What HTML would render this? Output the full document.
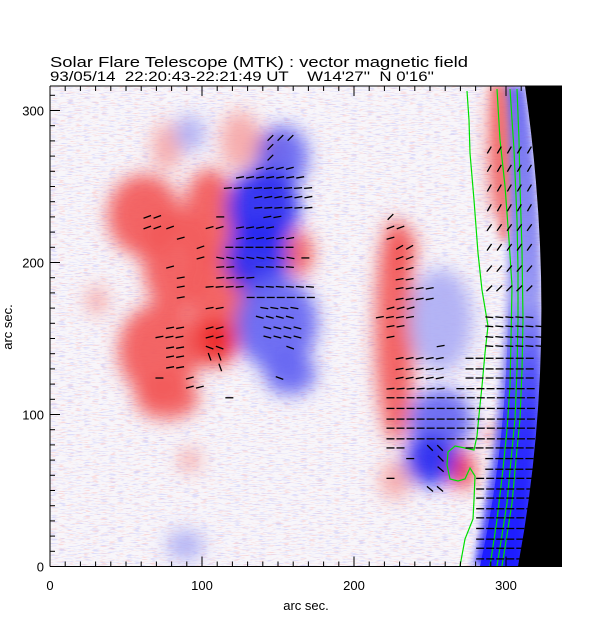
<!DOCTYPE html>
<html><head><meta charset="utf-8">
<style>
html,body{margin:0;padding:0;background:#fff;}
svg{display:block;font-family:"Liberation Sans",sans-serif;}
</style></head>
<body>
<svg id="chart" width="612" height="617" viewBox="0 0 612 617" xmlns="http://www.w3.org/2000/svg">
<defs>
 <clipPath id="plotclip"><rect x="50" y="86" width="512" height="480"/></clipPath>
 <filter id="blur6" x="-50%" y="-50%" width="200%" height="200%"><feGaussianBlur stdDeviation="9"/></filter>
 <filter id="blur3" x="-50%" y="-50%" width="200%" height="200%"><feGaussianBlur stdDeviation="4"/></filter>
 <filter id="noiseR" x="0" y="0" width="100%" height="100%">
  <feTurbulence type="fractalNoise" baseFrequency="0.12 0.9" numOctaves="2" seed="3" result="t"/>
  <feColorMatrix in="t" type="matrix" values="0 0 0 0 0.96  0 0 0 0 0.55  0 0 0 0 0.55  6 0 0 0 -3.4"/>
 </filter>
 <filter id="noiseB" x="0" y="0" width="100%" height="100%">
  <feTurbulence type="fractalNoise" baseFrequency="0.12 0.9" numOctaves="2" seed="11" result="t"/>
  <feColorMatrix in="t" type="matrix" values="0 0 0 0 0.6  0 0 0 0 0.6  0 0 0 0 0.96  6 0 0 0 -3.3"/>
 </filter>
 <linearGradient id="limbgrad" x1="0" y1="0" x2="0" y2="1">
  <stop offset="0" stop-color="#5a5af2"/>
  <stop offset="0.45" stop-color="#8a8af2"/>
  <stop offset="0.7" stop-color="#4a4af6"/>
  <stop offset="1" stop-color="#1818ff"/>
 </linearGradient>
 <linearGradient id="stronggrad" gradientUnits="userSpaceOnUse" x1="0" y1="300" x2="0" y2="566">
  <stop offset="0" stop-color="#1a1aff" stop-opacity="0"/>
  <stop offset="0.5" stop-color="#1a1aff" stop-opacity="0.7"/>
  <stop offset="1" stop-color="#1a1aff" stop-opacity="0.95"/>
 </linearGradient>
</defs>
<g id="plot" clip-path="url(#plotclip)">
 <rect x="50" y="86" width="512" height="480" fill="#f8f6fa"/>
 <rect x="50" y="86" width="512" height="480" filter="url(#noiseR)" opacity="0.55"/>
 <rect x="50" y="86" width="512" height="480" filter="url(#noiseB)" opacity="0.6"/>
 <g id="blobs" filter="url(#blur6)"></g>
 <path d="M503 86 Q522 336 474 566 L518 566 Q561 336 525 86 Z" fill="url(#limbgrad)" opacity="0.85" filter="url(#blur3)"/>
 <path d="M508 300 Q508 440 480 566 L518 566 Q545 440 543 300 Z" fill="url(#stronggrad)"/>
 <path d="M491 86 L506 86 Q511 160 508 240 L499 240 Q497 160 491 86 Z" fill="#f07070" opacity="0.8" filter="url(#blur3)"/>
 <path d="M525 86 Q561 336 518 566 L562 566 L562 86 Z" fill="#000"/>
 <g id="contours" fill="none" stroke="#00e000" stroke-width="1.2">
  <polyline points="467,91 469,120 470,153 474,200 478,253 482,290 488,326 485,353 482,386 479,415 477,436 474,450 465,448 455,446 448,452 447,465 450,479 458,481 465,479 470,468 475,476 474,500 473,519 465,539 460,566"/>
  <polyline points="497,89 500,140 505,186 509,240 512,286 511,340 510,386 507,430 503,469 497,520 490,566"/>
  <polyline points="510,89 514,150 517,219 518,270 518,319 517,370 515,419 511,460 507,503 502,535 497,566"/>
  <polyline points="517,89 519,140 520,186 522,250 523,319 522,370 520,419 516,460 512,503 507,535 502,566"/>
 </g>
 <g id="arrows" stroke="#000" stroke-width="1.3" stroke-linecap="butt"></g>
</g>
<g id="axes" stroke="#000" stroke-width="1"></g>
<g id="labels" font-size="13" fill="#000"></g>
<text x="50" y="67" font-size="15" textLength="418" lengthAdjust="spacingAndGlyphs">Solar Flare Telescope (MTK) : vector magnetic field</text>
<text x="50" y="81" font-size="14" xml:space="preserve" textLength="384" lengthAdjust="spacingAndGlyphs">93/05/14  22:20:43-22:21:49 UT    W14'27''  N 0'16''</text>
<text x="306" y="610" font-size="13" text-anchor="middle">arc sec.</text>
<text x="0" y="0" font-size="13" text-anchor="middle" transform="translate(12,327) rotate(-90)">arc sec.</text>
</svg>
<script>
// axis scale (arc sec -> px)
const xTicks = [0, 100, 200, 300];
const yTicks = [0, 100, 200, 300];
const xMax = 337, yMax = 316;
function sx(d){ return 50 + d * 1.52; }
function sy(d){ return 566.5 - d * 1.52; }

// magnetic field blobs (arc sec): center x, center y, radius x, radius y, polarity (+1 red / -1 blue), strength 0..2
const blobX   = [62, 82,105,112,107, 72, 77,125, 77,164, 31,145,227,230,296,271,291,227, 92,153,140,136,149,158, 92,257,257,250, 89];
const blobY   = [231,201,231,178,147,142,111,280,276,206,175,276,155,208,274, 64, 87, 57, 70,269,236,203,160,127,285,162, 96, 70, 14];
const blobRX  = [24, 21, 17, 21, 17, 27, 21, 13, 10,  9,  7, 10, 13, 11,  7,  8,  4, 10,  7, 17, 24, 21, 27, 17, 10, 21, 21, 17, 12];
const blobRY  = [27, 34, 31, 31, 15, 31, 14, 20, 16, 15, 10, 10, 74, 17, 46, 13,  5, 13,  8, 21, 27, 24, 31, 14, 12, 34, 21, 17, 10];
const blobPol = [ 1,  1,  1,  1,  1,  1,  1,  1,  1,  1,  1,  1,  1,  1,  1,  1,  1,  1,  1, -1, -1, -1, -1, -1, -1, -1, -1, -1, -1];
const blobStr = [ 1,  1,  1,  1,  2,  1,  1,  0,  0,  1,  0,  1,  1,  1,  1,  2,  1,  0,  0,  1,  2,  2,  1,  1,  0,  0,  1,  2,  0];

// transverse field arrow rows (arc sec): row y, x start, x end, angle (deg, +=clockwise)
const segY  = [282,276,269,262,256,249,243,236,230,230,230,223,223,223,223,216,216,210,210,203,203,203,197,197,197,190,190,184,184,184,177,177,170,170,164,157,157,157,151,151,151,144,144,144,138,138,131,131,124,124,124,118,111,
               230,223,216,210,203,196,189,183,176,170,164,164,158,158,151,151,145,145,137,137,130,130,124,124,117,117,111,104, 97, 91, 84, 78, 78, 78, 71, 71, 71, 64, 64, 58, 58, 51, 51, 45, 38, 32, 25, 18, 12,  5,
               274,262,249,236,223,210,196,183];
const segX0 = [145,145,145,138,125,117,137,137, 64,112,143, 64, 79,105,125, 86,125, 99,118, 99,112,168, 79,112,138, 86,112, 86,105,138, 86,132,105,141,138, 79,105,143, 72,105,143, 79,105,158, 79,105, 79,112, 72, 92,151, 92,118,
               224,224,224,230,230,230,230,230,230,224,217,289,224,289,224,289,257,289,230,276,230,276,230,276,224,270,224,224,224,224,224,224,250,276,237,257,289,257,289,224,283,250,283,283,283,283,283,283,283,283,
               289,289,289,289,289,289,289,289];
const segX1 = [161,151,145,161,168,172,172,172, 72,112,151, 72, 79,112,145, 86,158, 99,158, 99,164,171, 79,125,158, 86,132, 86,125,171, 86,178,118,161,164, 86,112,164, 86,118,164, 86,118,164, 86,118, 86,118, 72, 92,151, 99,118,
               224,237,230,237,243,243,237,250,250,243,243,316,237,322,224,322,263,322,257,322,257,322,257,322,257,322,322,322,322,322,322,237,263,322,243,263,322,263,322,224,316,257,316,316,316,316,316,316,316,316,
               316,316,316,316,316,316,316,316];
const segAng= [-45,-45,-45,-15,-10, -5,-10, -5,-20,  0,-10,-20,-20,-15,-10,-15,-10,-20,  0,-15, 10,  0,-15, -5,  5,-10, -5,-10, -5,  5,-10,  0,-10, 10, 15,-10,-15, 15,-10,-15, 15,-10, 20, 20,-10, 70,-10, 70,  0,-15, 20,-15,  0,
               -45,-20,-15,-30,-20,-15,-10,-10,-10,-15,-10,  5,-10,  5,-10,  5,-10,  5,-10,  0,-10,  0,-10,  0, -5,  0,  0,  0,  0,  0,  0,  0, 45,  0,  0, 45,  0, 40,  0,  0,  0, 40,  0,  0,  0,  0,  0,  0,  0,  0,
               -60,-60,-60,-60,-55,-55,-50,-45];

const NS = 'http://www.w3.org/2000/svg';
const redCols = ['#f6a8a8', '#f25858', '#ee2424'];
const blueCols = ['#aeaef4', '#6464f2', '#2828f0'];

const blobG = document.getElementById('blobs');
for (let i = 0; i < blobX.length; i++) {
  const e = document.createElementNS(NS, 'ellipse');
  e.setAttribute('cx', sx(blobX[i]));
  e.setAttribute('cy', sy(blobY[i]));
  e.setAttribute('rx', blobRX[i] * 1.52);
  e.setAttribute('ry', blobRY[i] * 1.52);
  e.setAttribute('fill', blobPol[i] > 0 ? redCols[blobStr[i]] : blueCols[blobStr[i]]);
  e.setAttribute('opacity', '0.92');
  
  
  blobG.appendChild(e);
}

const arrG = document.getElementById('arrows');
const step = 6.6, len = 8;
for (let i = 0; i < segY.length; i++) {
  for (let x = segX0[i]; x <= segX1[i] + 0.01; x += step) {
    const a = segAng[i] * Math.PI / 180;
    const cx = sx(x), cy = sy(segY[i]);
    const dx = Math.cos(a) * len / 2, dy = Math.sin(a) * len / 2;
    const l = document.createElementNS(NS, 'line');
    l.setAttribute('x1', cx - dx); l.setAttribute('y1', cy - dy);
    l.setAttribute('x2', cx + dx); l.setAttribute('y2', cy + dy);
    
    
    arrG.appendChild(l);
  }
}

// axes
const axG = document.getElementById('axes');
function ln(x1,y1,x2,y2,name){
  const l = document.createElementNS(NS,'line');
  l.setAttribute('x1',x1); l.setAttribute('y1',y1); l.setAttribute('x2',x2); l.setAttribute('y2',y2);
  
  
  axG.appendChild(l);
}
ln(50,86,50,566.5,'y-axis-line');
ln(50,566.5,562,566.5,'x-axis-line');
ln(50,86,562,86,'top-axis-line');
for (let v = 0; v <= xMax; v += 10) {
  const major = v % 100 === 0, L = major ? 10 : 5;
  ln(sx(v),566.5,sx(v),566.5-L,'x-tick');
  ln(sx(v),86,sx(v),86+L,'top-tick');
}
for (let v = 0; v <= yMax; v += 10) {
  const major = v % 100 === 0, L = major ? 10 : 5;
  ln(50,sy(v),50+L,sy(v),'y-tick');
}
const lbG = document.getElementById('labels');
xTicks.forEach(v => {
  const t = document.createElementNS(NS,'text');
  t.setAttribute('x', sx(v)); t.setAttribute('y', 590);
  t.setAttribute('text-anchor','middle');
  t.textContent = v;
  
  
  lbG.appendChild(t);
});
yTicks.forEach(v => {
  const t = document.createElementNS(NS,'text');
  t.setAttribute('x', 44); t.setAttribute('y', sy(v) + 5);
  t.setAttribute('text-anchor','end');
  t.textContent = v;
  
  
  lbG.appendChild(t);
});
</script>
</body></html>
